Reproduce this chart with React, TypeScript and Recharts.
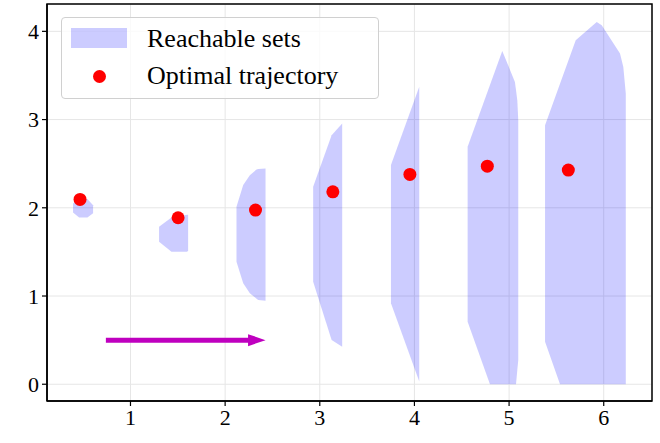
import {
  ComposedChart,
  Area,
  Line,
  Scatter,
  XAxis,
  YAxis,
  CartesianGrid,
  ReferenceArea,
  Legend,
} from "recharts";

// reachable sets: each one is a band with lower / upper edge along x
const set1 = [
  { x: 0.393, lo: 1.948, hi: 2.05 },
  { x: 0.457, lo: 1.891, hi: 2.1 },
  { x: 0.545, lo: 1.891, hi: 2.1 },
  { x: 0.605, lo: 1.937, hi: 2.03 },
];
const set2 = [
  { x: 1.302, lo: 1.615, hi: 1.785 },
  { x: 1.433, lo: 1.502, hi: 1.891 },
  { x: 1.6, lo: 1.502, hi: 1.92 },
  { x: 1.609, lo: 1.52, hi: 1.92 },
];
const set3 = [
  { x: 2.12, lo: 1.389, hi: 2.011 },
  { x: 2.191, lo: 1.144, hi: 2.257 },
  { x: 2.261, lo: 1.031, hi: 2.37 },
  { x: 2.332, lo: 0.97, hi: 2.435 },
  { x: 2.349, lo: 0.955, hi: 2.44 },
  { x: 2.427, lo: 0.947, hi: 2.446 },
];
const set4 = [
  { x: 2.93, lo: 1.162, hi: 2.238 },
  { x: 3.125, lo: 0.502, hi: 2.823 },
  { x: 3.237, lo: 0.426, hi: 2.956 },
];
const set5 = [
  { x: 3.752, lo: 0.917, hi: 2.484 },
  { x: 4.051, lo: 0.03, hi: 3.371 },
];
const set6 = [
  { x: 4.562, lo: 0.709, hi: 2.691 },
  { x: 4.798, lo: 0, hi: 3.392 },
  { x: 4.928, lo: 0, hi: 3.778 },
  { x: 5.062, lo: 0, hi: 3.427 },
  { x: 5.073, lo: 0, hi: 3.336 },
  { x: 5.087, lo: 0.16, hi: 3.22 },
  { x: 5.097, lo: 0.275, hi: 2.993 },
];
const set7 = [
  { x: 5.38, lo: 0.483, hi: 2.937 },
  { x: 5.538, lo: 0, hi: 3.406 },
  { x: 5.704, lo: 0, hi: 3.899 },
  { x: 5.926, lo: 0, hi: 4.107 },
  { x: 5.979, lo: 0, hi: 4.069 },
  { x: 6.172, lo: 0, hi: 3.749 },
  { x: 6.207, lo: 0, hi: 3.597 },
  { x: 6.233, lo: 0, hi: 3.296 },
];
const reachableSets = [set1, set2, set3, set4, set5, set6, set7];

// optimal trajectory
const trajectory = [
  { x: 0.467, y: 2.095 },
  { x: 1.503, y: 1.887 },
  { x: 2.321, y: 1.974 },
  { x: 3.138, y: 2.181 },
  { x: 3.952, y: 2.378 },
  { x: 4.77, y: 2.472 },
  { x: 5.626, y: 2.427 },
];

// time arrow
const arrowShaft = [
  { x: 0.74, y: 0.5 },
  { x: 2.25, y: 0.5 },
];
const arrowTip = [{ x: 2.427, y: 0.5 }];

const xTicks = [1, 2, 3, 4, 5, 6];
const yTicks = [0, 1, 2, 3, 4];
const xDomain = [0.118, 6.51];
const yDomain = [-0.19, 4.31];

const FONT = "'Liberation Serif', 'Times New Roman', serif";
const SET_FILL = "#0000ff";
const MAGENTA = "#bf00bf";

const Dot = (props: any) => (
  <circle cx={props.cx} cy={props.cy} r={6.5} fill="#ff0000" />
);

const ArrowHead = (props: any) => {
  const { cx, cy } = props;
  return (
    <polygon
      points={`${cx},${cy} ${cx - 17.5},${cy - 6} ${cx - 17.5},${cy + 6}`}
      fill={MAGENTA}
    />
  );
};

const LegendBox = () => (
  <div
    style={{
      width: 316,
      height: 80,
      border: "1px solid #d0d0d0",
      borderRadius: 4,
      background: "rgba(255,255,255,0.8)",
      fontFamily: FONT,
      fontSize: 26,
      lineHeight: "30px",
      color: "#000",
      position: "relative",
    }}
  >
    <div
      style={{
        position: "absolute",
        left: 9,
        top: 10,
        width: 56,
        height: 20,
        background: "rgba(0,0,255,0.2)",
      }}
    />
    <div style={{ position: "absolute", left: 85, top: 6, whiteSpace: "nowrap" }}>
      Reachable sets
    </div>
    <div
      style={{
        position: "absolute",
        left: 31,
        top: 52,
        width: 13,
        height: 13,
        borderRadius: "50%",
        background: "#ff0000",
      }}
    />
    <div style={{ position: "absolute", left: 85, top: 43, whiteSpace: "nowrap" }}>
      Optimal trajectory
    </div>
  </div>
);

export default function App() {
  return (
    <div style={{ position: "absolute", left: 0, top: 0, background: "#fff" }}>
      <ComposedChart
        width={660}
        height={443}
        margin={{ top: 4, right: 8, bottom: 0, left: 0 }}
      >
        <CartesianGrid stroke="#e6e6e6" strokeWidth={1} />
        <XAxis
          type="number"
          dataKey="x"
          domain={xDomain}
          ticks={xTicks}
          allowDataOverflow
          height={42}
          tickSize={5}
          tickMargin={3}
          axisLine={{ stroke: "#000", strokeWidth: 1.5 }}
          tickLine={{ stroke: "#000", strokeWidth: 1.2 }}
          tick={{ fontFamily: FONT, fontSize: 22, fill: "#000" }}
        />
        <YAxis
          type="number"
          dataKey="y"
          domain={yDomain}
          ticks={yTicks}
          allowDataOverflow
          width={47}
          tickSize={5}
          tickMargin={3}
          axisLine={{ stroke: "#000", strokeWidth: 1.5 }}
          tickLine={{ stroke: "#000", strokeWidth: 1.2 }}
          tick={{ fontFamily: FONT, fontSize: 22, fill: "#000" }}
        />
        {reachableSets.map((s, i) => (
          <Area
            key={i}
            data={s}
            dataKey={(d: any) => [d.lo, d.hi]}
            type="linear"
            stroke="none"
            fill={SET_FILL}
            fillOpacity={0.2}
            dot={false}
            activeDot={false}
            isAnimationActive={false}
            legendType="none"
          />
        ))}
        <Line
          data={arrowShaft}
          dataKey="y"
          stroke={MAGENTA}
          strokeWidth={5}
          dot={false}
          activeDot={false}
          isAnimationActive={false}
          legendType="none"
        />
        <Scatter
          data={arrowTip}
          dataKey="y"
          shape={ArrowHead}
          isAnimationActive={false}
          legendType="none"
        />
        <Scatter
          data={trajectory}
          dataKey="y"
          shape={Dot}
          isAnimationActive={false}
          legendType="none"
        />
        <ReferenceArea
          x1={xDomain[0]}
          x2={xDomain[1]}
          y1={yDomain[0]}
          y2={yDomain[1]}
          fill="none"
          stroke="#000"
          strokeWidth={1.5}
          ifOverflow="visible"
        />
        <Legend
          layout="vertical"
          align="center"
          verticalAlign="middle"
          content={LegendBox}
          wrapperStyle={{ left: 61, top: 17, width: 318, height: 82 }}
        />
      </ComposedChart>
    </div>
  );
}
